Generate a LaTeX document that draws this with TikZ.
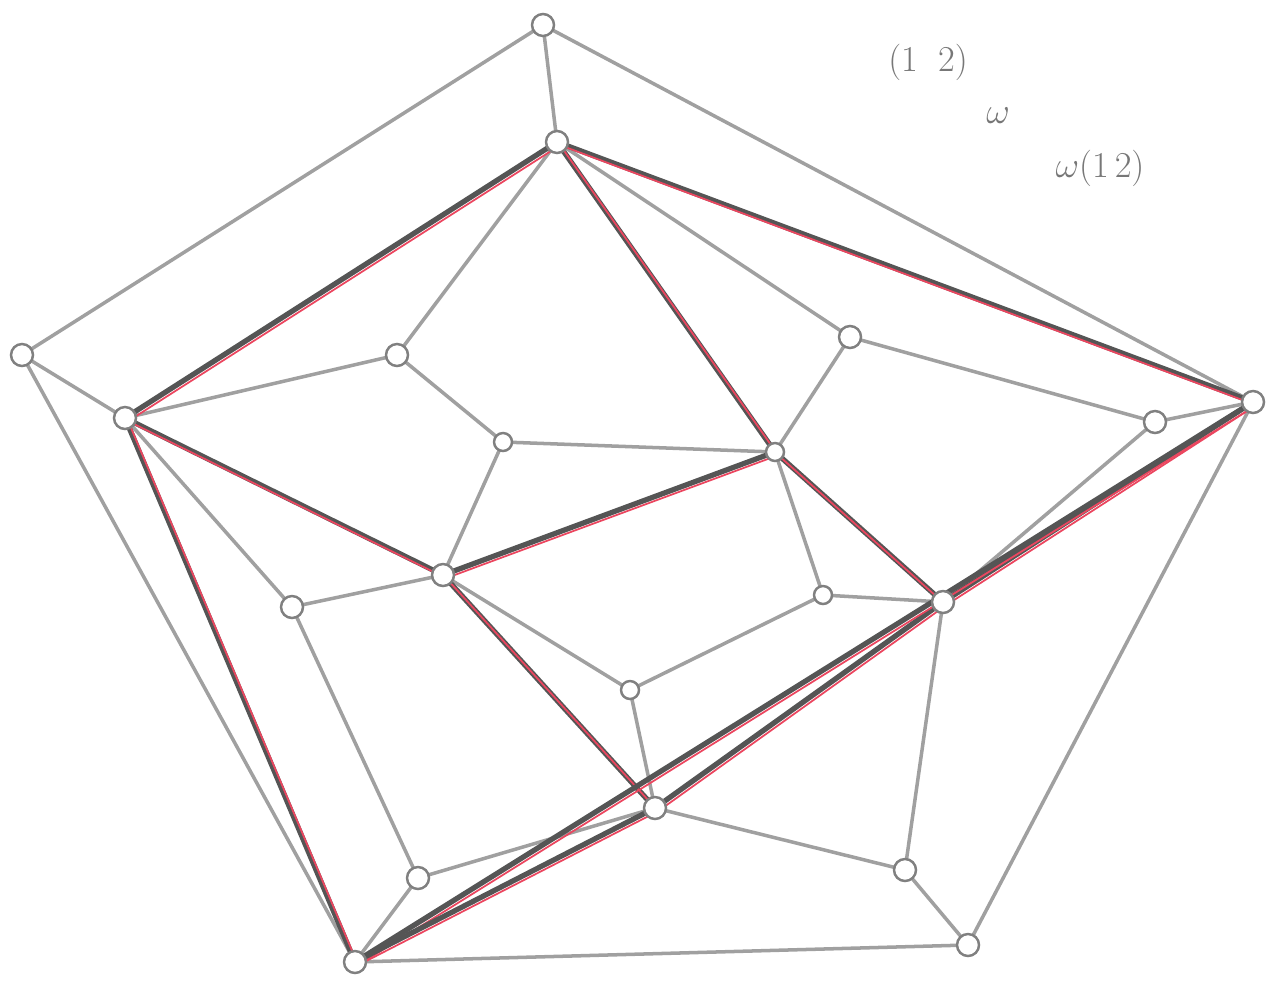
\documentclass[tikz,border=0pt]{standalone}
\usepackage{amsmath, amssymb}
\usepackage{xcolor}
\usepackage{tikz}
\usetikzlibrary{
    calc
}
\definecolor{pencil}{RGB}{160,160,160}
\definecolor{darkpencil}{RGB}{85,85,85}
\definecolor{redpencil}{RGB}{235,70,95}
\tikzset{
    vertex/.style={
        circle,
        draw=darkpencil!75,
        fill=white,
        line width=1.4pt,
        inner sep=0pt,
        minimum size=4.4mm
    },
    smallvertex/.style={
        vertex,
        minimum size=3.6mm
    },
    edge/.style={
        draw=pencil,
        line width=2pt,
        line cap=round
    },
    cubeedge/.style={
        draw=darkpencil,
        line width=3pt,
        line cap=round
    },
    redline/.style={
        draw=redpencil,
        line width=1pt,
        line cap=round
    },
    note/.style={
        text=darkpencil!80,
        font=\fontsize{22}{26}\selectfont
    }
}

\begin{document}
\begin{tikzpicture}[x=0.2mm, y=-0.2mm]
\useasboundingbox (0,0) rectangle (1275,983);

% vertices of the dodecahedron
\coordinate (p1) at (543,25);
\coordinate (p2) at (557,142);
\coordinate (p3) at (22,355);
\coordinate (p4) at (125,418);
\coordinate (p5) at (397,355);
\coordinate (p6) at (503,442);
\coordinate (p7) at (850,337);
\coordinate (p8) at (775,452);
\coordinate (p9) at (1253,402);
\coordinate (p10) at (1155,422);
\coordinate (p11) at (443,575);
\coordinate (p12) at (292,607);
\coordinate (p13) at (823,595);
\coordinate (p14) at (943,602);
\coordinate (p15) at (630,690);
\coordinate (p16) at (655,808);
\coordinate (p17) at (418,878);
\coordinate (p18) at (905,870);
\coordinate (p19) at (968,945);
\coordinate (p20) at (355,962);

% edges of the dodecahedron
\foreach \a/\b in {p1/p2, p1/p3, p1/p9, p2/p5, p2/p7, p3/p4, p3/p20,
    p4/p5, p4/p12, p5/p6, p6/p8, p6/p11, p7/p8, p7/p10, p8/p13,
    p9/p10, p9/p19, p10/p14, p11/p12, p11/p15, p12/p17, p13/p14,
    p13/p15, p14/p18, p15/p16, p16/p17, p16/p18, p17/p20, p18/p19,
    p19/p20}
    \draw[edge] (\a) -- (\b);

% the inscribed cube
\foreach \a/\b in {p2/p4, p2/p9, p2/p8, p4/p11, p4/p20, p11/p8,
    p11/p16, p8/p14, p14/p16, p9/p14, p9/p20, p16/p20} {
    \draw[cubeedge] (\a) -- (\b);
    \draw[redline, transform canvas={shift={(1.8pt,-1.8pt)}}] (\a) -- (\b);
}

\foreach \i in {1,2,3,4,5,7,9,10,11,12,14,16,17,18,19,20}
    \node[vertex] (v\i) at (p\i) {};
\foreach \i in {6,8,13,15}
    \node[smallvertex] (v\i) at (p\i) {};

\node[note] (perm) at (928,62) {$(1\;\;2)$};
\node[note] (om) at (998,116) {$\omega$};
\node[note] (omperm) at (1100,168) {$\omega(1\,2)$};

\end{tikzpicture}
\end{document}
